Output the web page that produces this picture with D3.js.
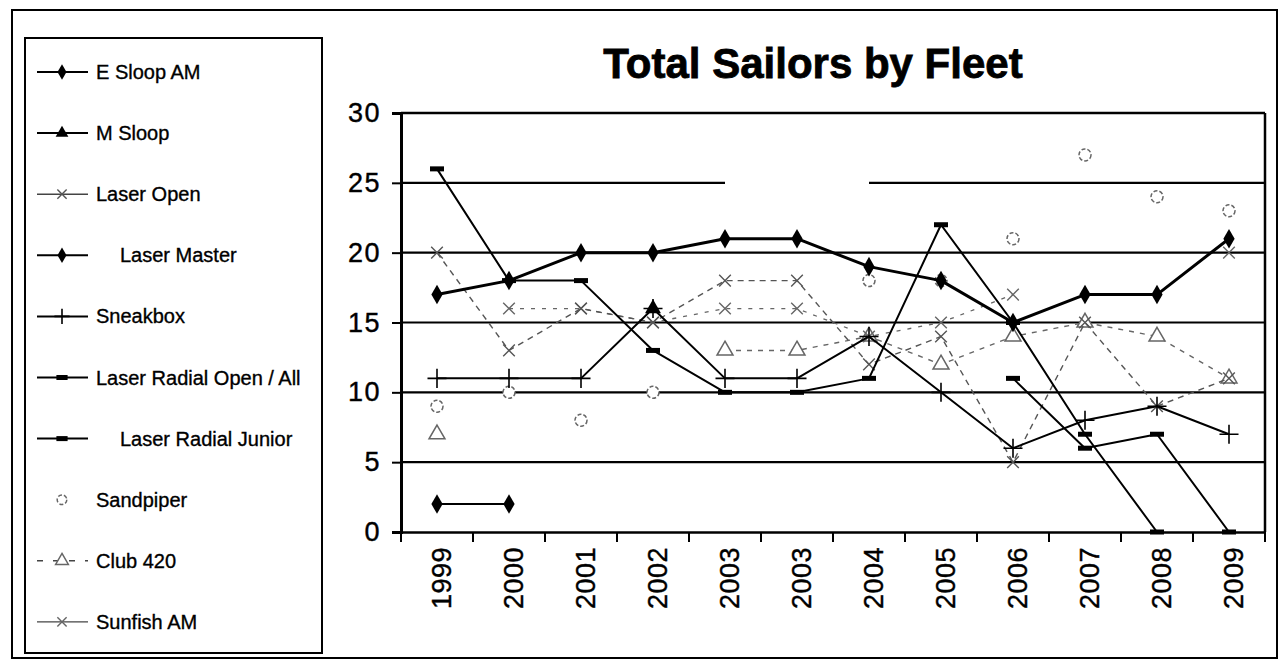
<!DOCTYPE html>
<html>
<head>
<meta charset="utf-8">
<script src="https://cdn.jsdelivr.net/npm/d3@7"></script>
<style>
  html, body { margin: 0; padding: 0; background: #fff; }
  svg { display: block; font-family: "Liberation Sans", Arial, sans-serif; }
</style>
</head>
<body>
<svg id="chart" width="1281" height="663"></svg>
<script>
// ---------- data ----------
const categories = ["1999","2000","2001","2002","2003","2003","2004","2005","2006","2007","2008","2009"];
const yTickValues = [0, 5, 10, 15, 20, 25, 30];
const seriesNames = ["E Sloop AM","M Sloop","Laser Open","Laser Master","Sneakbox",
  "Laser Radial Open / All","Laser Radial Junior","Sandpiper","Club 420","Sunfish AM"];

const eSloopAM          = [2, 2, null, null, null, null, null, null, null, null, null, null];
const mSloop            = [null, null, null, 16, null, null, null, null, null, null, null, null];
const laserOpen         = [20, 13, 16, 15, 18, 18, 12, 14, 5, 15, 9, 11];
const laserMaster       = [17, 18, 20, 20, 21, 21, 19, 18, 15, 17, 17, 21];
const sneakbox          = [11, 11, 11, 16, 11, 11, 14, 10, 6, 8, 9, 7];
const laserRadialOpen   = [26, 18, 18, 13, 10, 10, 11, 22, 15, 7, 0, null];
const laserRadialJunior = [null, null, null, null, null, null, null, null, 11, 6, 7, 0];
const sandpiper         = [9, 10, 8, 10, null, null, 18, 18, 21, 27, 24, 23];
const club420           = [7, null, null, null, 13, 13, 14, 12, 14, 15, 14, 11];
const sunfishAM         = [null, 16, 16, 15, 16, 16, 14, 15, 17, null, null, 20];

const seriesValues = [eSloopAM, mSloop, laserOpen, laserMaster, sneakbox,
  laserRadialOpen, laserRadialJunior, sandpiper, club420, sunfishAM];

// ---------- styles ----------
const styles = {
  "E Sloop AM":              {color:"#000", width:2,   dash:null,  marker:"diamond", line:true},
  "M Sloop":                 {color:"#000", width:2,   dash:null,  marker:"triangle", line:true},
  "Laser Open":              {color:"#555", width:1.4, dash:"6,5", marker:"x", line:true},
  "Laser Master":            {color:"#000", width:3,   dash:null,  marker:"diamond", line:true},
  "Sneakbox":                {color:"#000", width:2,   dash:null,  marker:"plus", line:true},
  "Laser Radial Open / All": {color:"#000", width:2,   dash:null,  marker:"dash", line:true},
  "Laser Radial Junior":     {color:"#000", width:2,   dash:null,  marker:"dash", line:true},
  "Sandpiper":               {color:"#666", width:1.2, dash:null,  marker:"circle", line:false},
  "Club 420":                {color:"#666", width:1.4, dash:"5,6", marker:"otriangle", line:true},
  "Sunfish AM":              {color:"#666", width:1.3, dash:"4,7", marker:"x", line:true}
};

const svg = d3.select("#chart");
svg.append("rect").attr("width",1281).attr("height",663).attr("fill","#fff");

// outer border
svg.append("rect").attr("x",12).attr("y",10).attr("width",1265).attr("height",648)
  .attr("fill","none").attr("stroke","#000").attr("stroke-width",2);

// ---------- scales ----------
const plot = {left:401, right:1265, top:113, bottom:532};
const x = d3.scaleBand().domain(d3.range(categories.length)).range([plot.left, plot.right]).padding(0);
const y = d3.scaleLinear().domain([0, 30]).range([plot.bottom, plot.top]);
const cx = i => x(i) + x.bandwidth()/2;

// gridlines (25 line shows a gap in the scan between the 2003 pair and 2004)
const grid = svg.append("g");
yTickValues.filter(v => v > 0 && v < 30).forEach(v => {
  if (v === 25) {
    grid.append("line").attr("x1",plot.left).attr("x2",cx(4)).attr("y1",y(v)).attr("y2",y(v))
      .attr("stroke","#000").attr("stroke-width",2.2);
    grid.append("line").attr("x1",cx(6)).attr("x2",plot.right).attr("y1",y(v)).attr("y2",y(v))
      .attr("stroke","#000").attr("stroke-width",2.2);
  } else {
    grid.append("line").attr("x1",plot.left).attr("x2",plot.right).attr("y1",y(v)).attr("y2",y(v))
      .attr("stroke","#000").attr("stroke-width",2.2);
  }
});
// plot border: top and right
svg.append("line").attr("x1",plot.left).attr("x2",plot.right).attr("y1",y(30)).attr("y2",y(30))
  .attr("stroke","#000").attr("stroke-width",2.5);
svg.append("line").attr("x1",plot.right).attr("x2",plot.right).attr("y1",y(30)).attr("y2",y(0))
  .attr("stroke","#000").attr("stroke-width",2.5);

// y axis
const yAxis = svg.append("g").attr("transform",`translate(${plot.left},0)`)
  .call(d3.axisLeft(y).tickValues(yTickValues).tickSize(9).tickPadding(11));
yAxis.select(".domain").attr("stroke","#000").attr("stroke-width",3);
yAxis.selectAll(".tick line").attr("stroke","#000").attr("stroke-width",2);
yAxis.selectAll(".tick text").attr("font-size",27).attr("fill","#000")
  .attr("stroke","#000").attr("stroke-width",0.4)
  .attr("font-family","'Liberation Sans', Arial, sans-serif").attr("letter-spacing",1.5);

// x axis (labels at centres, ticks at category boundaries)
const xAxis = svg.append("g").attr("transform",`translate(0,${plot.bottom})`)
  .call(d3.axisBottom(x).tickFormat(i => categories[i]).tickSize(0));
xAxis.select(".domain").attr("stroke","#000").attr("stroke-width",2.5);
xAxis.selectAll(".tick text")
  .attr("font-size",27).attr("fill","#000").attr("font-family","'Liberation Sans', Arial, sans-serif")
  .attr("stroke","#000").attr("stroke-width",0.4).attr("letter-spacing",0.5)
  .attr("text-anchor","end").attr("dy",null).attr("y",null)
  .attr("transform","translate(14,15) rotate(-90)");
const boundaries = d3.range(categories.length + 1).map(i => i < categories.length ? x(i) : x(i-1) + x.bandwidth());
svg.append("g").selectAll("line").data(boundaries).join("line")
  .attr("x1",d=>d).attr("x2",d=>d).attr("y1",plot.bottom).attr("y2",plot.bottom+10)
  .attr("stroke","#000").attr("stroke-width",2);

// title
svg.append("text").attr("x",813).attr("y",78).attr("text-anchor","middle")
  .attr("font-size",42).attr("font-weight","bold").attr("fill","#000")
  .attr("stroke","#000").attr("stroke-width",0.8).text("Total Sailors by Fleet");

// ---------- markers ----------
function drawMarker(g, type, px, py, color, scale) {
  const s = scale || 1;
  if (type === "diamond") {
    g.append("path").attr("d", d3.symbol(d3.symbolDiamond, 110*s*s)())
      .attr("transform",`translate(${px},${py})`).attr("fill",color);
  } else if (type === "triangle") {
    g.append("path").attr("d", d3.symbol(d3.symbolTriangle, 110*s*s)())
      .attr("transform",`translate(${px},${py})`).attr("fill",color);
  } else if (type === "otriangle") {
    g.append("path").attr("d", d3.symbol(d3.symbolTriangle, 110*s*s)())
      .attr("transform",`translate(${px},${py})`).attr("fill","#fff").attr("stroke",color).attr("stroke-width",1.5);
  } else if (type === "circle") {
    g.append("circle").attr("cx",px).attr("cy",py).attr("r",6*s)
      .attr("fill","#fff").attr("stroke",color).attr("stroke-width",1.5).attr("stroke-dasharray","4,2");
  } else if (type === "plus") {
    g.append("path").attr("d", d3.symbol(d3.symbolPlus, 120*s*s)())
      .attr("transform",`translate(${px},${py})`).attr("fill","none").attr("stroke",color).attr("stroke-width",1.6);
  } else if (type === "x") {
    g.append("path").attr("d", d3.symbol(d3.symbolTimes, 90*s*s)())
      .attr("transform",`translate(${px},${py})`).attr("fill","none").attr("stroke",color).attr("stroke-width",1.4);
  } else if (type === "dash") {
    g.append("rect").attr("x",px-7*s).attr("y",py-2.5).attr("width",14*s).attr("height",5).attr("fill",color);
  }
}

// ---------- series ----------
const lineGen = d3.line().defined(d => d.v !== null).x(d => cx(d.i)).y(d => y(d.v));
const drawOrder = [7, 8, 9, 2, 0, 1, 5, 6, 4, 3];
drawOrder.forEach(k => {
  const name = seriesNames[k];
  const st = styles[name];
  const pts = seriesValues[k].map((v,i) => ({i, v}));
  const g = svg.append("g");
  if (st.line) {
    g.append("path").datum(pts).attr("d", lineGen).attr("fill","none")
      .attr("stroke", st.color).attr("stroke-width", st.width)
      .attr("stroke-dasharray", st.dash).attr("stroke-linejoin","round");
  }
  pts.filter(d => d.v !== null).forEach(d => drawMarker(g, st.marker, cx(d.i), y(d.v), st.color, 1));
});

// ---------- legend ----------
svg.append("rect").attr("x",25).attr("y",38).attr("width",297).attr("height",615)
  .attr("fill","none").attr("stroke","#000").attr("stroke-width",2);
const legendTextX = {"Laser Master":120, "Laser Radial Junior":120};
seriesNames.forEach((name, i) => {
  const st = styles[name];
  const ly = 72 + 61.1*i;
  const g = svg.append("g");
  if (st.line) {
    g.append("line").attr("x1",37).attr("x2",88).attr("y1",ly).attr("y2",ly)
      .attr("stroke", st.color === "#000" ? "#000" : "#444").attr("stroke-width", Math.min(st.width,2))
      .attr("stroke-dasharray", name === "Club 420" ? "6,10" : null);
  }
  drawMarker(g, st.marker, 62, ly, st.color, 0.8);
  g.append("text").attr("x", legendTextX[name] || 96).attr("y", ly + 7)
    .attr("font-size",20).attr("fill","#000").attr("stroke","#000").attr("stroke-width",0.35)
    .attr("letter-spacing",0).text(name);
});
</script>
</body>
</html>
